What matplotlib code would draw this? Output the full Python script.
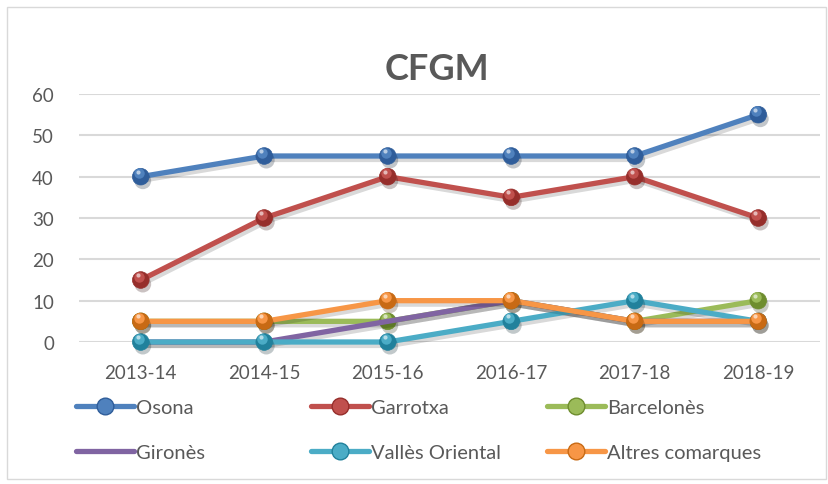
import matplotlib
matplotlib.use("Agg")
import matplotlib.pyplot as plt
import matplotlib.patheffects as pe
from matplotlib.patches import Rectangle
from matplotlib.lines import Line2D
from matplotlib.transforms import ScaledTranslation

plt.rcParams['font.family'] = ['Lato', 'DejaVu Sans']

# data
years = ['2013-14', '2014-15', '2015-16', '2016-17', '2017-18', '2018-19']
osona = [40, 45, 45, 45, 45, 55]
garrotxa = [15, 30, 40, 35, 40, 30]
barcelones = [5, 5, 5, 10, 5, 10]
girones = [0, 0, 5, 10, 5, 5]
valles = [0, 0, 0, 5, 10, 5]
altres = [5, 5, 10, 10, 5, 5]

series = [
    ('Osona', osona, '#4f81bd', '#2f5d9a', True),
    ('Garrotxa', garrotxa, '#c0504d', '#962e2b', True),
    ('Barcelonès', barcelones, '#9bbb59', '#6e8d2e', True),
    ('Gironès', girones, '#8064a2', '#5c437d', False),
    ('Vallès Oriental', valles, '#4bacc6', '#21819c', True),
    ('Altres comarques', altres, '#f79646', '#c86a14', True),
]

fig = plt.figure(figsize=(8.29, 4.85), dpi=100)
fig.add_artist(Rectangle((7 / 829, 5 / 485), 819 / 829, 472 / 485, transform=fig.transFigure,
                         fill=False, edgecolor='#d9d9d9', linewidth=1))
ax = fig.add_axes([79 / 829, 1 - 343 / 485, 741 / 829, 248 / 485])

x = list(range(len(years)))
shadow = [pe.SimpleLineShadow(offset=(1.5, -2.5), shadow_color='black', alpha=0.15), pe.Normal()]
hl_off = ScaledTranslation(-1.5 / 72, 2.5 / 72, fig.dpi_scale_trans)

handles = []
for i, (name, vals, col, dark, mark) in enumerate(series):
    ax.plot(x, vals, color=col, lw=3.8, solid_capstyle='round', zorder=3 + i,
            clip_on=False, path_effects=shadow)
    if mark:
        ax.plot(x, vals, ls='none', marker='o', ms=12, mfc=dark, mec=dark, mew=0.5,
                zorder=3 + i, clip_on=False,
                path_effects=[pe.SimplePatchShadow(offset=(1.5, -3), alpha=0.25), pe.Normal()])
        ax.plot(x, vals, ls='none', marker='o', ms=7.5, mfc=col, mec='none',
                zorder=3 + i, clip_on=False, transform=ax.transData + hl_off)
        ax.plot(x, vals, ls='none', marker='o', ms=3, mfc='white', mec='none', alpha=0.6,
                zorder=3 + i, clip_on=False,
                transform=ax.transData + ScaledTranslation(-2 / 72, 3.5 / 72, fig.dpi_scale_trans))
    handles.append(Line2D([], [], color=col, lw=3.8, marker='o' if mark else None,
                          ms=12, mfc=col, mec=dark, mew=1, solid_capstyle='round'))

ax.set_xlim(-0.5, len(years) - 0.5)
ax.set_ylim(0, 60)
ax.set_yticks(range(0, 61, 10))
ax.set_xticks(x)
ax.set_xticklabels(years)
ax.grid(axis='y', color='#d9d9d9', lw=1.5)
ax.set_axisbelow(True)
for s in ax.spines.values():
    s.set_visible(False)
ax.tick_params(length=0, labelsize=13.5, labelcolor='#595959')
ax.tick_params(axis='y', pad=18)
ax.tick_params(axis='x', pad=16)

fig.text(437 / 829, 1 - 70 / 485, 'CFGM', ha='center', va='center', fontsize=26,
         fontweight='bold', color='#595959')

labels = [s[0] for s in series]
col_x = [72 / 829, 307 / 829, 543 / 829]
for c in range(3):
    lg = fig.legend([handles[c], handles[c + 3]], [labels[c], labels[c + 3]],
                    loc='upper left', bbox_to_anchor=(col_x[c], 1 - 396 / 485),
                    frameon=False, fontsize=14.5, handlelength=2.9, handletextpad=0.1,
                    labelspacing=1.4, borderaxespad=0, borderpad=0.2)
    for t in lg.get_texts():
        t.set_color('#595959')

fig.savefig('out.png', dpi=100)
